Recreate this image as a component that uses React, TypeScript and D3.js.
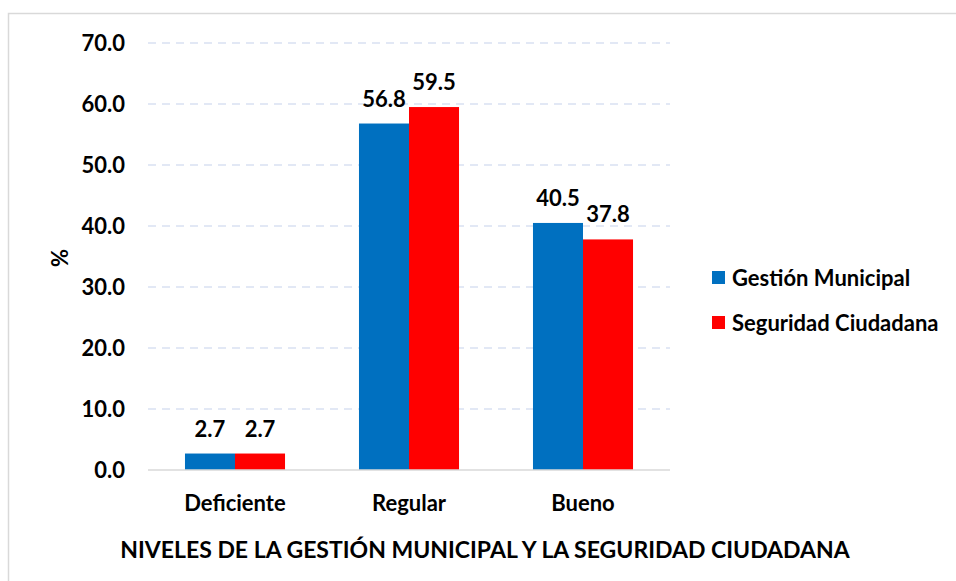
import React from "react";
import * as d3 from "d3";

const categories = ["Deficiente", "Regular", "Bueno"];
const seriesNames = ["Gestión Municipal", "Seguridad Ciudadana"];
const gestion = [2.7, 56.8, 40.5];
const seguridad = [2.7, 59.5, 37.8];
const yTicks = [0, 10, 20, 30, 40, 50, 60, 70];
const colors = ["#0070c0", "#ff0000"];

const FONT = "Lato, 'Open Sans', sans-serif";

export default function App() {
  const width = 956;
  const height = 581;
  const left = 148;
  const right = 670;
  const top = 43;
  const bottom = 470;

  const x = d3.scaleBand().domain(categories).range([left, right]).paddingInner(0.425).paddingOuter(0.2125);
  const inner = d3.scaleBand().domain(seriesNames).range([0, x.bandwidth()]);
  const y = d3.scaleLinear().domain([0, 70]).range([bottom, top]);

  const series = [gestion, seguridad];

  return (
    <svg
      width={width}
      height={height}
      style={{ position: "absolute", left: 0, top: 0, background: "#fff" }}
      fontFamily={FONT}
      fontWeight="bold"
    >
      <rect x={8.5} y={13.5} width={970} height={600} fill="#fff" stroke="#d9d9d9" strokeWidth={1.5} />

      {yTicks.map((t) => (
        <g key={t}>
          {t > 0 && (
            <line x1={left} x2={right} y1={y(t)} y2={y(t)} stroke="#d9e1f2" strokeWidth={1.5} strokeDasharray="8,6" />
          )}
          <text x={125} y={y(t)} dy="0.35em" textAnchor="end" fontSize={22} fill="#000">
            {t.toFixed(1)}
          </text>
        </g>
      ))}

      {categories.map((c, i) => (
        <g key={c}>
          {series.map((vals, s) => {
            const bx = (x(c) as number) + (inner(seriesNames[s]) as number);
            const bw = inner.bandwidth();
            return (
              <g key={s}>
                <rect x={bx} y={y(vals[i])} width={bw} height={y(0) - y(vals[i])} fill={colors[s]} />
                <text x={bx + bw / 2} y={y(vals[i]) - 17} textAnchor="middle" fontSize={22} fill="#000">
                  {vals[i].toFixed(1)}
                </text>
              </g>
            );
          })}
          <text x={(x(c) as number) + x.bandwidth() / 2} y={511} textAnchor="middle" fontSize={22} fill="#000">
            {c}
          </text>
        </g>
      ))}

      <line x1={left} x2={right} y1={bottom} y2={bottom} stroke="#d9d9d9" strokeWidth={1.5} />

      <text transform="translate(68,258) rotate(-90)" textAnchor="middle" fontSize={22} fill="#000">
        %
      </text>

      <text x={485} y={558} textAnchor="middle" fontSize={23} fill="#000">
        NIVELES DE LA GESTIÓN MUNICIPAL Y LA SEGURIDAD CIUDADANA
      </text>

      {seriesNames.map((n, s) => (
        <g key={n} transform={`translate(712,${278 + s * 45})`}>
          <rect x={0} y={-7} width={13} height={13} fill={colors[s]} />
          <text x={20} y={0} dy="0.35em" fontSize={22} fill="#000">
            {n}
          </text>
        </g>
      ))}
    </svg>
  );
}
